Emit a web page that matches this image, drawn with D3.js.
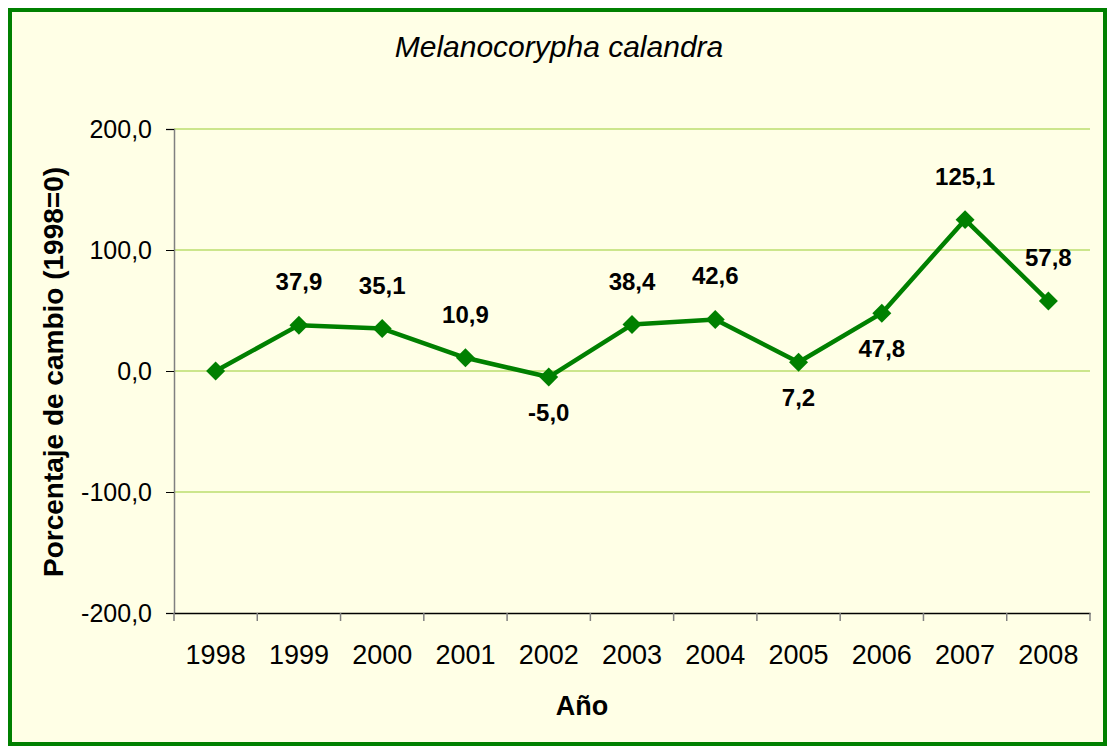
<!DOCTYPE html>
<html>
<head>
<meta charset="utf-8">
<script src="https://cdn.jsdelivr.net/npm/d3@7"></script>
<style>
  body { margin: 0; background: #fff; }
  text { font-family: "Liberation Sans", Arial, sans-serif; }
</style>
</head>
<body>
<script>
var years = ["1998", "1999", "2000", "2001", "2002", "2003", "2004", "2005", "2006", "2007", "2008"];
var values = [0, 37.9, 35.1, 10.9, -5.0, 38.4, 42.6, 7.2, 47.8, 125.1, 57.8];
var labelSide = ["none", "above", "above", "above", "below", "above", "above", "below", "below", "above", "above"];
var yTicks = [-200, -100, 0, 100, 200];

var w = 1108, h = 749;
var plotLeft = 174, plotRight = 1090, plotTop = 129, plotBottom = 613;

var svg = d3.select("body").append("svg")
    .attr("width", w)
    .attr("height", h);

// background + green frame
svg.append("rect")
    .attr("x", 10).attr("y", 10)
    .attr("width", 1095).attr("height", 734)
    .attr("fill", "#ffffe6")
    .attr("stroke", "#008000")
    .attr("stroke-width", 4);

var xScale = d3.scaleBand()
    .domain(years)
    .range([plotLeft, plotRight]);

var yScale = d3.scaleLinear()
    .domain([-200, 200])
    .range([plotBottom, plotTop]);

var fmt = function (d) { return d.toFixed(1).replace(".", ","); };

// gridlines
svg.selectAll("line.grid")
    .data(yTicks.filter(function (d) { return d !== -200; }))
    .enter()
    .append("line")
    .attr("class", "grid")
    .attr("x1", plotLeft).attr("x2", plotRight)
    .attr("y1", function (d) { return yScale(d); })
    .attr("y2", function (d) { return yScale(d); })
    .attr("stroke", "#9acd32")
    .attr("stroke-width", 1.2);

// y axis
var yAxis = svg.append("g")
    .attr("transform", "translate(" + plotLeft + ",0)")
    .call(d3.axisLeft(yScale).tickValues(yTicks).tickFormat(fmt).tickSize(8).tickPadding(14));
yAxis.select(".domain").attr("stroke", "#808080").attr("stroke-width", 1.5);
yAxis.selectAll(".tick line").attr("stroke", "#000");
yAxis.selectAll(".tick text")
    .attr("font-family", "Liberation Sans, Arial, sans-serif")
    .attr("font-size", 25)
    .attr("fill", "#000");

// x axis (labels only, ticks at band edges)
var xAxis = svg.append("g")
    .attr("transform", "translate(0," + plotBottom + ")")
    .call(d3.axisBottom(xScale).tickSize(0).tickPadding(32));
xAxis.select(".domain").attr("stroke", "#000").attr("stroke-width", 1.5);
xAxis.selectAll(".tick text")
    .attr("font-family", "Liberation Sans, Arial, sans-serif")
    .attr("font-size", 27)
    .attr("fill", "#000");

var edges = years.map(function (d) { return xScale(d); }).concat([xScale.range()[1]]);
svg.selectAll("line.xtick")
    .data(edges)
    .enter()
    .append("line")
    .attr("class", "xtick")
    .attr("x1", function (d) { return d; })
    .attr("x2", function (d) { return d; })
    .attr("y1", plotBottom).attr("y2", plotBottom + 8)
    .attr("stroke", "#808080")
    .attr("stroke-width", 1.5);

var cx = function (i) { return xScale(years[i]) + xScale.bandwidth() / 2; };

// line
var line = d3.line()
    .x(function (d, i) { return cx(i); })
    .y(function (d) { return yScale(d); });

svg.append("path")
    .datum(values)
    .attr("d", line)
    .attr("fill", "none")
    .attr("stroke", "#008000")
    .attr("stroke-width", 4.5)
    .attr("stroke-linejoin", "round");

// diamond markers
svg.selectAll("path.marker")
    .data(values)
    .enter()
    .append("path")
    .attr("class", "marker")
    .attr("d", d3.symbol().type(d3.symbolSquare).size(180))
    .attr("transform", function (d, i) {
        return "translate(" + cx(i) + "," + yScale(d) + ") rotate(45)";
    })
    .attr("fill", "#008000");

// data labels
svg.selectAll("text.lbl")
    .data(values.map(function (v, i) { return { v: v, i: i }; })
        .filter(function (d) { return labelSide[d.i] !== "none"; }))
    .enter()
    .append("text")
    .attr("class", "lbl")
    .attr("x", function (d) { return cx(d.i); })
    .attr("y", function (d) {
        return labelSide[d.i] === "above" ? yScale(d.v) - 35 : yScale(d.v) + 44;
    })
    .attr("text-anchor", "middle")
    .attr("font-size", 24)
    .attr("font-weight", "bold")
    .attr("fill", "#000")
    .text(function (d) { return fmt(d.v); });

// titles
svg.append("text")
    .attr("x", 559).attr("y", 57)
    .attr("text-anchor", "middle")
    .attr("font-size", 30)
    .attr("font-style", "italic")
    .attr("fill", "#000")
    .text("Melanocorypha calandra");

svg.append("text")
    .attr("transform", "translate(63,372) rotate(-90)")
    .attr("text-anchor", "middle")
    .attr("font-size", 28)
    .attr("font-weight", "bold")
    .attr("fill", "#000")
    .text("Porcentaje de cambio (1998=0)");

svg.append("text")
    .attr("x", 582).attr("y", 715)
    .attr("text-anchor", "middle")
    .attr("font-size", 27)
    .attr("font-weight", "bold")
    .attr("fill", "#000")
    .text("Año");
</script>
</body>
</html>
